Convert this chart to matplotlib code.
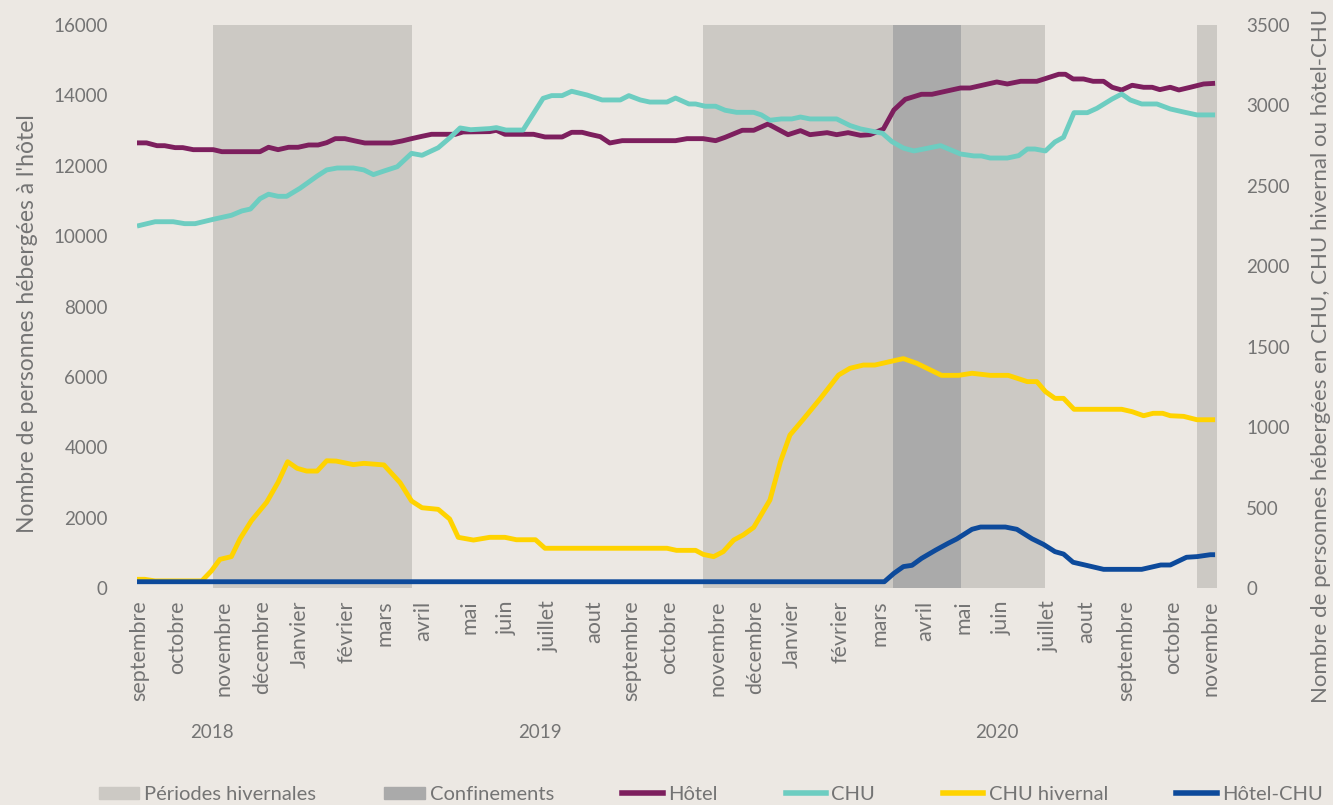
import matplotlib
matplotlib.use("Agg")
import matplotlib.pyplot as plt
from matplotlib.patches import Patch
from matplotlib.lines import Line2D

plt.rcParams['font.family'] = ['Lato', 'DejaVu Sans']

# x en semaines depuis début septembre 2018
hotel_sem = [0, 1.0, 2.1, 2.9, 4.0, 4.8, 5.9, 8.0, 8.9, 12.9, 13.8, 14.8, 15.9, 16.9, 18.0, 19.0,
             19.9, 20.8, 21.8, 22.9, 23.9, 26.7, 27.8, 28.8, 29.9, 30.9, 33.4, 34.2, 37.0, 37.7,
             38.6, 41.6, 42.8, 44.6, 45.6, 46.7, 47.5, 48.6, 49.6, 50.9, 56.5, 57.7, 59.4, 60.7,
             61.7, 63.5, 64.7, 66.2, 68.3, 69.6, 70.6, 72.4, 73.4, 74.6, 75.9, 76.9, 78.3, 79.4,
             80.6, 82.3, 83.4, 86.4, 87.4, 90.2, 91.3, 92.7, 94.4, 95.5, 96.7, 97.4, 98.2, 99.3,
             100.3, 101.4, 102.3, 103.3, 104.4, 105.6, 106.5, 107.3, 108.4, 109.3, 110.5, 111.9, 113.1]
hotel = [12650, 12650, 12570, 12570, 12515, 12515, 12457, 12457, 12400, 12400, 12525, 12457, 12525,
         12525, 12590, 12590, 12656, 12770, 12770, 12704, 12647, 12647, 12704, 12770, 12837, 12894,
         12894, 12960, 12970, 13008, 12894, 12894, 12818, 12818, 12950, 12950, 12894, 12827, 12647,
         12713, 12713, 12770, 12770, 12713, 12808, 13008, 13008, 13187, 12883, 12997, 12883, 12940,
         12883, 12940, 12865, 12883, 13045, 13585, 13889, 14031, 14031, 14210, 14210, 14381, 14324,
         14400, 14400, 14495, 14600, 14600, 14466, 14466, 14400, 14400, 14230, 14153, 14287, 14230,
         14230, 14163, 14230, 14153, 14230, 14324, 14343]

chu_sem = [0, 1.9, 3.8, 5.0, 6.1, 8.0, 9.9, 11.0, 11.9, 12.9, 13.8, 14.8, 15.7, 17.1, 18.9, 19.9,
           21.0, 22.7, 23.8, 24.8, 26.0, 27.3, 28.8, 29.9, 31.6, 32.8, 33.9, 35.0, 37.0, 37.7, 38.7,
           40.5, 42.6, 43.5, 44.6, 45.6, 47.2, 48.8, 50.7, 51.6, 52.8, 53.8, 55.6, 56.5, 57.9, 58.6,
           59.6, 60.7, 61.7, 62.9, 64.7, 65.5, 66.4, 67.6, 68.7, 69.6, 70.6, 73.4, 74.8, 75.9, 78.2,
           79.2, 80.4, 81.5, 84.3, 86.4, 87.8, 88.6, 89.5, 91.3, 92.5, 93.4, 94.2, 95.3, 96.3, 97.2,
           98.3, 99.7, 100.7, 102.3, 103.3, 104.2, 105.4, 107.0, 108.4, 109.8, 111.2, 113.1]
chu = [2250, 2277, 2277, 2265, 2265, 2292, 2317, 2344, 2356, 2420, 2448, 2435, 2435, 2485, 2561, 2599,
       2611, 2611, 2599, 2570, 2594, 2619, 2702, 2690, 2737, 2798, 2860, 2849, 2856, 2862, 2847,
       2847, 3044, 3061, 3061, 3088, 3065, 3034, 3034, 3061, 3034, 3021, 3021, 3046, 3009, 3009,
       2995, 2995, 2970, 2957, 2957, 2941, 2908, 2916, 2916, 2928, 2916, 2916, 2875, 2854, 2827,
       2775, 2735, 2717, 2750, 2698, 2686, 2686, 2673, 2673, 2688, 2729, 2729, 2717, 2773, 2802,
       2955, 2955, 2982, 3040, 3071, 3034, 3009, 3009, 2978, 2959, 2941, 2941]

hiv_sem = [0, 0.8, 1.9, 6.8, 7.8, 8.7, 9.9, 10.8, 12.0, 13.6, 14.8, 15.8, 16.8, 17.8, 18.9, 19.9,
           20.9, 22.7, 23.8, 25.9, 27.6, 28.8, 29.9, 31.6, 32.8, 33.7, 35.3, 37.0, 38.6, 39.8, 41.8,
           42.8, 55.6, 56.6, 58.6, 59.4, 60.5, 61.5, 62.6, 63.6, 64.7, 66.4, 67.5, 68.5, 69.9, 71.7,
           73.6, 74.8, 76.2, 77.4, 79.4, 80.4, 81.8, 84.4, 86.2, 87.6, 89.5, 91.4, 93.4, 94.4, 95.3,
           96.3, 97.2, 98.3, 103.3, 104.4, 105.6, 106.6, 107.6, 108.4, 109.8, 111.2, 113.1]
chu_hivernal = [54, 54, 44, 44, 106, 178, 195, 305, 418, 533, 657, 785, 744, 727, 727, 791,
                789, 767, 775, 765, 655, 541, 499, 489, 429, 315, 298, 315, 315, 300, 300,
                247, 247, 234, 234, 209, 195, 226, 298, 330, 377, 547, 785, 951, 1049, 1179,
                1324, 1366, 1386, 1386, 1413, 1426, 1397, 1322, 1322, 1335, 1322, 1322, 1283, 1283, 1221,
                1179, 1179, 1111, 1111, 1096, 1071, 1086, 1086, 1071, 1067, 1046, 1046]

hc_sem = [0, 78.4, 79.4, 80.4, 81.3, 82.3, 83.8, 85.1, 86.0, 87.6, 88.5, 91.1, 92.3, 93.9, 95.1,
          96.3, 97.2, 98.2, 99.3, 101.4, 105.4, 107.4, 108.4, 110.1, 111.2, 112.6, 113.1]
hotel_chu = [39, 39, 91, 133, 141, 184, 236, 278, 305, 365, 379, 379, 365, 306, 271,
             226, 211, 160, 145, 116, 116, 143, 143, 191, 195, 207, 207]

mois_pos = [0.2, 4.2, 9.1, 13.1, 17.1, 22.0, 26.0, 30.0, 34.9, 38.8, 43.2, 48.0, 51.9, 55.8,
            60.9, 64.8, 68.7, 73.8, 77.9, 82.7, 86.7, 90.7, 95.7, 99.6, 103.8, 108.7, 112.6]
mois = ['septembre', 'octobre', 'novembre', 'décembre', 'Janvier', 'février', 'mars', 'avril',
        'mai', 'juin', 'juillet', 'aout', 'septembre', 'octobre', 'novembre', 'décembre', 'Janvier',
        'février', 'mars', 'avril', 'mai', 'juin', 'juillet', 'aout', 'septembre', 'octobre', 'novembre']
annees = ['2018', '2019', '2020']
annees_pos = [7.9, 42.3, 90.2]

hivers = [(8.0, 28.9), (59.4, 79.3), (86.4, 95.3), (111.2, 113.3)]
confinements = [(79.3, 86.4)]

bg = '#ECE8E3'
gris = '#747474'
c_hiver = '#CCC9C4'
c_conf = '#AAAAAA'
c_hotel = '#7D1F5E'
c_chu = '#6DCDC1'
c_hiv = '#FFD300'
c_hc = '#0D4A9B'

fig = plt.figure(figsize=(13.33, 8.05), dpi=100)
fig.patch.set_facecolor(bg)
ax = fig.add_axes([137/1333, 1-588/805, (1217-137)/1333, (588-25)/805])
ax.set_facecolor(bg)
ax2 = ax.twinx()

for a, b in hivers:
    ax.axvspan(a, b, color=c_hiver, lw=0, zorder=0)
for a, b in confinements:
    ax.axvspan(a, b, color=c_conf, lw=0, zorder=0)

ax.plot(hotel_sem, hotel, color=c_hotel, lw=3.5, solid_capstyle='butt')
ax2.plot(chu_sem, chu, color=c_chu, lw=3.5, solid_capstyle='butt')
ax2.plot(hiv_sem, chu_hivernal, color=c_hiv, lw=3.5, solid_capstyle='butt')
ax2.plot(hc_sem, hotel_chu, color=c_hc, lw=3.5, solid_capstyle='butt')

ax.set_xlim(0, 113.3)
ax.set_ylim(0, 16000)
ax2.set_ylim(0, 3500)
ax.set_yticks(range(0, 16001, 2000))
ax2.set_yticks(range(0, 3501, 500))
ax.set_xticks(mois_pos)
ax.set_xticklabels(mois, rotation=90, fontsize=15.5, color=gris)
for a in (ax, ax2):
    for s in a.spines.values():
        s.set_visible(False)
ax.tick_params(axis='x', length=0, pad=9)
ax.tick_params(axis='y', length=0, pad=21, labelsize=13.5, labelcolor=gris)
ax2.tick_params(axis='y', length=0, pad=21, labelsize=13.5, labelcolor=gris)

for t, x in zip(annees, annees_pos):
    ax.text(x, -0.256, t, transform=ax.get_xaxis_transform(), ha='center', va='center',
            fontsize=13.5, color=gris)

fig.text(0.021, 1-324/805, "Nombre de personnes hébergées à l'hôtel", rotation=90,
         ha='center', va='center', fontsize=16.5, color=gris)
fig.text(0.991, 1-356/805, "Nombre de personnes hébergées en CHU, CHU hivernal ou hôtel-CHU",
         rotation=90, ha='center', va='center', fontsize=16, color=gris)

handles = [Patch(color=c_hiver), Patch(color=c_conf),
           Line2D([], [], color=c_hotel, lw=4), Line2D([], [], color=c_chu, lw=4),
           Line2D([], [], color=c_hiv, lw=4), Line2D([], [], color=c_hc, lw=4)]
labels = ['Périodes hivernales', 'Confinements', 'Hôtel', 'CHU', 'CHU hivernal', 'Hôtel-CHU']
leg = fig.legend(handles, labels, loc='center', bbox_to_anchor=(0.533, 0.013), ncol=6,
                 frameon=False, fontsize=14.5, handlelength=2.0, handleheight=0.6,
                 handletextpad=0.25, columnspacing=3.4, borderaxespad=0)
for t in leg.get_texts():
    t.set_color(gris)

fig.savefig('out.png', dpi=100, facecolor=bg)
